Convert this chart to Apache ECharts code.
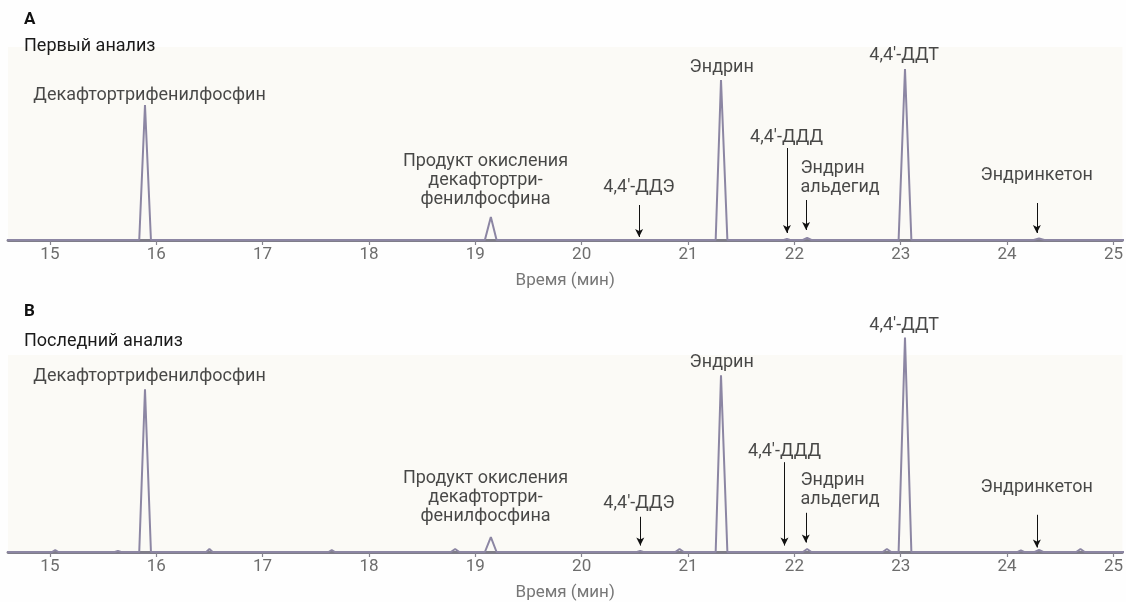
<!DOCTYPE html>
<html><head><meta charset="utf-8">
<script src="https://cdn.jsdelivr.net/npm/echarts@6/dist/echarts.min.js"></script>
<style>html,body{margin:0;padding:0;background:#fefefe}#c{width:1126px;height:602px}</style>
</head><body><div id="c"></div>
<script>
// ---- data (time in min, signal in arbitrary units) ----
const tickValues = [15,16,17,18,19,20,21,22,23,24,25];
const axisName = 'Время (мин)';

// Panel A – first analysis trace
const traceA = [
  [14.6,0],[15.84,0],[15.894,135],[15.95,0],
  [19.09,0],[19.146,23],[19.2,0],
  [21.26,0],[21.31,160],[21.37,0],
  [21.9,0],[21.93,1],[21.96,0],
  [22.08,0],[22.12,2],[22.16,0],
  [22.98,0],[23.04,171],[23.1,0],
  [24.25,0],[24.3,1.5],[24.35,0],[25.1,0]
];
// Panel B – last analysis trace
const traceB = [
  [14.6,0],[15.02,0],[15.05,2],[15.08,0],
  [15.61,0],[15.64,1],[15.67,0],
  [15.84,0],[15.894,164],[15.95,0],
  [16.47,0],[16.5,3],[16.53,0],
  [17.62,0],[17.65,2],[17.68,0],
  [18.77,0],[18.81,3],[18.85,0],
  [19.09,0],[19.146,15],[19.2,0],
  [20.52,0],[20.55,1],[20.58,0],
  [20.88,0],[20.92,3],[20.96,0],
  [21.26,0],[21.31,178],[21.37,0],
  [22.08,0],[22.12,3],[22.16,0],
  [22.83,0],[22.87,3],[22.91,0],
  [22.98,0],[23.04,216],[23.1,0],
  [24.1,0],[24.13,1.5],[24.16,0],
  [24.26,0],[24.3,2],[24.34,0],
  [24.65,0],[24.69,3],[24.73,0],[25.1,0]
];

// annotations: [text, time, level, align]
const labelsA = [
  ['Декафтортрифенилфосфин', 15.937, 145, 'center'],
  ['Продукт окисления\nдекафтортри-\nфенилфосфина', 19.096, 60, 'center'],
  ['4,4\'-ДДЭ', 20.539, 53, 'center'],
  ['Эндрин', 21.317, 173, 'center'],
  ['4,4\'-ДДТ', 23.032, 185, 'center'],
  ['4,4\'-ДДД', 21.926, 103, 'center'],
  ['Эндрин\nальдегид', 22.057, 62.5, 'left'],
  ['Эндринкетон', 24.278, 65, 'center']
];
const labelsB = [
  ['Декафтортрифенилфосфин', 15.937, 176.5, 'center'],
  ['Продукт окисления\nдекафтортри-\nфенилфосфина', 19.096, 54.5, 'center'],
  ['4,4\'-ДДЭ', 20.539, 48.5, 'center'],
  ['Эндрин', 21.317, 190.5, 'center'],
  ['4,4\'-ДДТ', 23.032, 228.5, 'center'],
  ['4,4\'-ДДД', 21.907, 101.5, 'center'],
  ['Эндрин\nальдегид', 22.057, 62.5, 'left'],
  ['Эндринкетон', 24.278, 64.5, 'center']
];
// arrows: [time, fromLevel, toLevel]
const arrowsA = [[20.54,35,3],[21.93,92,7],[22.11,40,10],[24.28,37,7]];
const arrowsB = [[20.551,35.5,6.5],[21.907,90.5,6.5],[22.107,39.5,9.5],[24.28,37.5,4.5]];

const panelTitles = [['A','Первый анализ'],['B','Последний анализ']];

// ---- chart ----
const FONT = 'Roboto, "Noto Sans", sans-serif';
const chart = echarts.init(document.getElementById('c'), null, {renderer:'canvas'});

function xAxisCfg(gi){
  return {
    gridIndex: gi, type:'value', min:14.606, max:25.084,
    axisLine:{show:true, onZero:false, lineStyle:{color:'#7f7d89', width:2.8}},
    axisTick:{show:true, customValues:tickValues, length:5, lineStyle:{color:'#86848f', width:1.2}},
    axisLabel:{show:true, customValues:tickValues, color:'#6d6d6d', fontSize:17, fontFamily:FONT, margin:6},
    splitLine:{show:false},
    name:axisName, nameLocation:'middle', nameGap:32,
    nameTextStyle:{color:'#777', fontSize:17, fontFamily:FONT}
  };
}
function yAxisCfg(gi, max){
  return {gridIndex:gi, type:'value', min:0, max:max, show:false, splitLine:{show:false}};
}
function traceSeries(gi, data, arrows){
  return {
    type:'line', xAxisIndex:gi, yAxisIndex:gi, data:data, symbol:'none', clip:false,
    lineStyle:{color:'#8c86a3', width:2}, z:3, silent:true,
    markLine:{
      silent:true, symbol:['none','arrow'], symbolSize:[6,8], label:{show:false},
      lineStyle:{color:'#111', width:1, type:'solid'},
      data: arrows.map(a => [{coord:[a[0],a[1]]},{coord:[a[0],a[2]]}])
    }
  };
}
function labelSeries(gi, labels){
  return {
    type:'scatter', xAxisIndex:gi, yAxisIndex:gi, symbolSize:0, clip:false, silent:true, z:5,
    data: labels.map(l => ({
      value:[l[1], l[2]],
      label:{show:true, position:'inside', formatter:l[0], align:l[3],
        color:'#1a1a1a', fontSize:18, fontFamily:FONT, lineHeight:19}
    }))
  };
}

chart.setOption({
  animation:false,
  backgroundColor:'#fefefe',
  grid:[
    {left:8, right:0, top:47, height:193, show:true, backgroundColor:'#fbfaf6', borderWidth:0},
    {left:8, right:0, top:355, height:198.5, show:true, backgroundColor:'#fbfaf6', borderWidth:0}
  ],
  xAxis:[xAxisCfg(0), xAxisCfg(1)],
  yAxis:[yAxisCfg(0,193), yAxisCfg(1,198.5)],
  series:[
    traceSeries(0, traceA, arrowsA), traceSeries(1, traceB, arrowsB),
    labelSeries(0, labelsA), labelSeries(1, labelsB)
  ],
  graphic:[
    {type:'text', left:24, top:11, style:{text:panelTitles[0][0], font:'bold 17px '+FONT, fill:'#111'}},
    {type:'text', left:24, top:37, style:{text:panelTitles[0][1], font:'18px '+FONT, fill:'#1a1a1a'}},
    {type:'text', left:24, top:303, style:{text:panelTitles[1][0], font:'bold 17px '+FONT, fill:'#111'}},
    {type:'text', left:24, top:332, style:{text:panelTitles[1][1], font:'18px '+FONT, fill:'#1a1a1a'}}
  ]
});
</script></body></html>
